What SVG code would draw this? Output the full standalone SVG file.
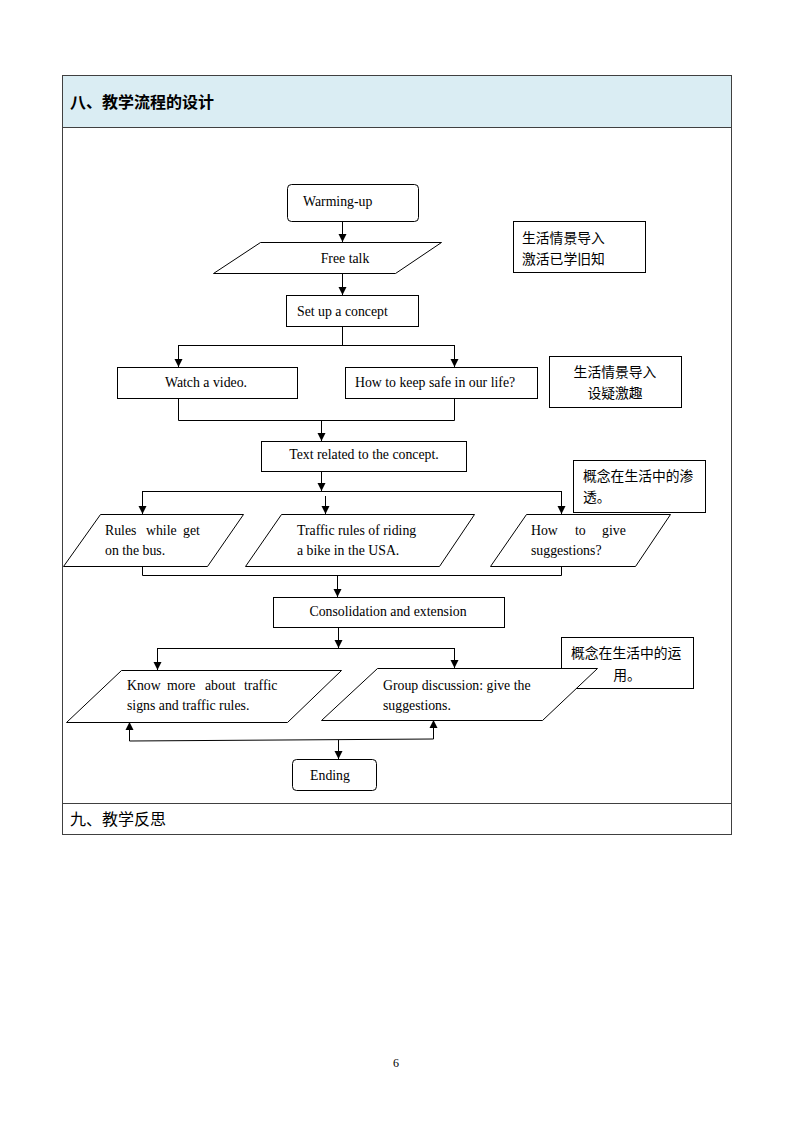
<svg xmlns="http://www.w3.org/2000/svg" width="794" height="1123" viewBox="0 0 794 1123">
<defs>
<marker id="ah" markerUnits="userSpaceOnUse" markerWidth="8" markerHeight="10" viewBox="0 0 8 10" refX="8" refY="5" orient="auto">
<path d="M0,1 L8,5 L0,9 Z" fill="#000"/>
</marker>
<style>
.en{font-family:"Liberation Serif","Times New Roman",serif;font-size:13.8px;fill:#000}
.cn{font-family:"Noto Sans CJK SC","Noto Sans",sans-serif;font-size:13.8px;fill:#000}
.shape{fill:#fff;stroke:#000;stroke-width:1}
.ln{fill:none;stroke:#000;stroke-width:1}
.ar{fill:none;stroke:#000;stroke-width:1;marker-end:url(#ah)}
.tb{fill:none;stroke:#404040;stroke-width:1}
</style>
</defs>
<rect width="794" height="1123" fill="#fff"/>
<g id="table">
<rect x="62.5" y="75.5" width="669" height="52" fill="#daedf3"/>
<rect class="tb" x="62.5" y="75.5" width="669" height="759"/>
<line class="tb" x1="62.5" y1="127.5" x2="731.5" y2="127.5"/>
<line class="tb" x1="62.5" y1="803.5" x2="731.5" y2="803.5"/>
<text x="70" y="108" font-family="'Noto Sans CJK SC',sans-serif" font-size="16" font-weight="bold" fill="#000">八、教学流程的设计</text>
<text x="70" y="825" font-family="'Noto Sans CJK SC',sans-serif" font-size="16" fill="#000">九、教学反思</text>
</g>
<g id="side-notes">
<g id="note1"><rect class="shape" x="513.5" y="221.5" width="132" height="51"/>
<text class="cn" x="522" y="243">生活情景导入</text><text class="cn" x="522" y="264">激活已学旧知</text></g>
<g id="note2"><rect class="shape" x="549.5" y="356.5" width="132" height="51"/>
<text class="cn" x="615" y="377" text-anchor="middle">生活情景导入</text><text class="cn" x="615" y="398" text-anchor="middle">设疑激趣</text></g>
<g id="note3"><rect class="shape" x="573.5" y="460.5" width="132" height="52"/>
<text class="cn" x="583" y="481">概念在生活中的渗</text><text class="cn" x="583" y="502">透。</text></g>
<g id="note4"><rect class="shape" x="561.5" y="637.5" width="132" height="51"/>
<text class="cn" x="571" y="658">概念在生活中的运</text><text class="cn" x="627" y="680" text-anchor="middle">用。</text></g>
</g>
<g id="connectors">
<line class="ar" x1="342.5" y1="221" x2="342.5" y2="242"/>
<line class="ar" x1="342.5" y1="273" x2="342.5" y2="295"/>
<polyline class="ln" points="342.5,326 342.5,345.5"/>
<polyline class="ln" points="178.5,345.5 454.5,345.5"/>
<line class="ar" x1="178.5" y1="345" x2="178.5" y2="367"/>
<line class="ar" x1="454.5" y1="345" x2="454.5" y2="367"/>
<polyline class="ln" points="178.5,398 178.5,420.5 454.5,420.5 454.5,398"/>
<line class="ar" x1="321.5" y1="420" x2="321.5" y2="441"/>
<line class="ar" x1="321.5" y1="471" x2="321.5" y2="491"/>
<polyline class="ln" points="142.5,491.5 561.5,491.5"/>
<line class="ar" x1="142.5" y1="491" x2="142.5" y2="514"/>
<line class="ar" x1="325.5" y1="496" x2="325.5" y2="514"/>
<line class="ar" x1="561.5" y1="491" x2="561.5" y2="514"/>
<polyline class="ln" points="142.5,566 142.5,575.5 561.5,575.5 561.5,566"/>
<line class="ar" x1="337.5" y1="575" x2="337.5" y2="597"/>
<line class="ar" x1="338.5" y1="627" x2="338.5" y2="648"/>
<polyline class="ln" points="157.5,648.5 454.5,648.5"/>
<line class="ar" x1="157.5" y1="648" x2="157.5" y2="670"/>
<line class="ar" x1="454.5" y1="648" x2="454.5" y2="668"/>
<line class="ar" x1="129.5" y1="741" x2="129.5" y2="722"/>
<polyline class="ln" points="129.5,741 433.5,739"/>
<line class="ar" x1="433.5" y1="739" x2="433.5" y2="720"/>
<line class="ar" x1="338.5" y1="740" x2="338.5" y2="759"/>
</g>
<g id="warming-up"><rect class="shape" x="287.5" y="184.5" width="131" height="37" rx="4"/>
<text class="en" x="303" y="206">Warming-up</text></g>
<g id="free-talk"><polygon class="shape" points="260.5,242.5 441.5,242.5 395.5,273.5 213.5,273.5"/>
<text class="en" x="345" y="263" text-anchor="middle">Free talk</text></g>
<g id="set-up"><rect class="shape" x="286.5" y="295.5" width="132" height="31"/>
<text class="en" x="297" y="316">Set up a concept</text></g>
<g id="watch-video"><rect class="shape" x="117.5" y="367.5" width="180" height="31"/>
<text class="en" x="206" y="387" text-anchor="middle">Watch a video.</text></g>
<g id="keep-safe"><rect class="shape" x="345.5" y="367.5" width="192" height="31"/>
<text class="en" x="355" y="387">How to keep safe in our life?</text></g>
<g id="text-related"><rect class="shape" x="261.5" y="441.5" width="205" height="30"/>
<text class="en" x="364" y="459" text-anchor="middle">Text related to the concept.</text></g>
<g id="rules-bus"><polygon class="shape" points="100.5,514.5 243.5,514.5 207.5,566.5 63.5,566.5"/>
<text class="en" y="535"><tspan x="105">Rules</tspan><tspan x="146">while</tspan><tspan x="183">get</tspan></text>
<text class="en" x="105" y="555">on the bus.</text></g>
<g id="traffic-bike"><polygon class="shape" points="281.5,514.5 474.5,514.5 439.5,566.5 245.5,566.5"/>
<text class="en" x="297" y="535">Traffic rules of riding</text>
<text class="en" x="297" y="555">a bike in the USA.</text></g>
<g id="give-suggestions"><polygon class="shape" points="526.5,514.5 670.5,514.5 635.5,566.5 490.5,566.5"/>
<text class="en" y="535"><tspan x="531">How</tspan><tspan x="575">to</tspan><tspan x="602">give</tspan></text>
<text class="en" x="531" y="555">suggestions?</text></g>
<g id="consolidation"><rect class="shape" x="273.5" y="597.5" width="231" height="30"/>
<text class="en" x="388" y="616" text-anchor="middle">Consolidation and extension</text></g>
<g id="know-more"><polygon class="shape" points="121.5,670.5 341.5,670.5 287.5,722.5 66.5,722.5"/>
<text class="en" y="690"><tspan x="127">Know</tspan><tspan x="167">more</tspan><tspan x="205">about</tspan><tspan x="244">traffic</tspan></text>
<text class="en" x="127" y="710">signs and traffic rules.</text></g>
<g id="group-discussion"><polygon class="shape" points="377.5,668.5 597.5,668.5 542.5,720.5 321.5,720.5"/>
<text class="en" x="383" y="690">Group discussion: give the</text>
<text class="en" x="383" y="710">suggestions.</text></g>
<g id="ending"><rect class="shape" x="292.5" y="759.5" width="84" height="31" rx="4"/>
<text class="en" x="330" y="780" text-anchor="middle">Ending</text></g>
<text x="396" y="1067" font-family="'Liberation Serif',serif" font-size="12" text-anchor="middle" fill="#000">6</text>
</svg>
